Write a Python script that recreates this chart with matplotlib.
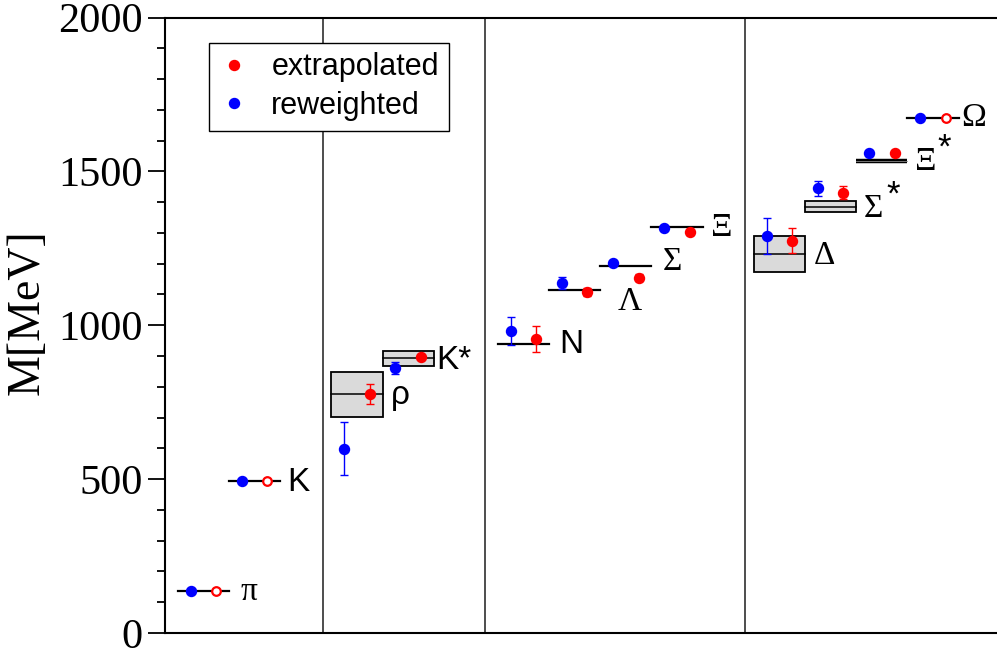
import matplotlib.pyplot as plt
from matplotlib.lines import Line2D
from matplotlib.patches import Rectangle

# hadron positions along x (slot centres) and labels
names = ['π', 'K', 'ρ', 'K*', 'N', 'Λ', 'Σ', 'Ξ', 'Δ', 'Σ*', 'Ξ*', 'Ω']
xpos = [0.75, 1.75, 3.75, 4.75, 7.0, 8.0, 9.0, 10.0, 12.0, 13.0, 14.0, 15.0]

# experimental masses and half widths (MeV)
m_exp = [138, 495, 775, 892, 939, 1116, 1192, 1318, 1232, 1385, 1533, 1672]
half_width = [0, 0, 74.5, 25.4, 0, 0, 0, 0, 58.5, 18, 4.5, 0]

# lattice results
m_rew = [138, 495, 598, 860, 982, 1137, 1203, 1317, 1290, 1445, 1561, 1672]
e_rew = [0, 0, 86, 20, 45, 20, 5, 5, 58, 24, 5, 0]
m_ext = [138, 495, 777, 896, 954, 1108, 1155, 1302, 1275, 1431, 1561, 1672]
e_ext = [0, 0, 32, 6, 42, 13, 12, 8, 40, 21, 5, 0]
is_input = [True, True, False, False, False, False, False, False, False, False, False, True]

separators = [3.08, 6.25, 11.33]

fig = plt.figure(figsize=(9.97, 6.55), dpi=100)
ax = fig.add_axes([165 / 997, 22 / 655, 832 / 997, 615.5 / 655])

ax.set_xlim(0, 16.25)
ax.set_ylim(0, 2000)

for s in separators:
    ax.axvline(s, color='#4d4d4d', lw=1.4, zorder=1)

for i in range(len(names)):
    x = xpos[i]
    if half_width[i] > 8:
        ax.add_patch(Rectangle((x - 0.5, m_exp[i] - half_width[i]), 1.0, 2 * half_width[i],
                               facecolor='#dadada', edgecolor='black', lw=1.3, zorder=2))
        ax.plot([x - 0.5, x + 0.5], [m_exp[i], m_exp[i]], color='black', lw=1.1, zorder=3)
    elif half_width[i] > 0:
        # narrow resonance: box collapses to a thick bar
        ax.plot([x - 0.5, x + 0.5], [m_exp[i], m_exp[i]], color='black', lw=3.2,
                solid_capstyle='butt', zorder=3)
        ax.plot([x - 0.5, x + 0.5], [m_exp[i], m_exp[i]], color='#888888', lw=0.6, zorder=3)
    else:
        ax.plot([x - 0.5, x + 0.5], [m_exp[i], m_exp[i]], color='black', lw=1.6, zorder=3)

    xb = x - 0.25
    xr = x + 0.25
    if e_rew[i] > 0:
        ax.errorbar(xb, m_rew[i], yerr=e_rew[i], fmt='none', ecolor='blue',
                    elinewidth=1.0, capsize=3, capthick=1.0, zorder=4)
    if e_ext[i] > 0:
        ax.errorbar(xr, m_ext[i], yerr=e_ext[i], fmt='none', ecolor='red',
                    elinewidth=1.0, capsize=3, capthick=1.0, zorder=4)
    ax.plot(xb, m_rew[i], 'o', color='blue', ms=7.2, mec='blue', zorder=5)
    if is_input[i]:
        ax.plot(xr, m_ext[i], 'o', mfc='white', mec='red', ms=6.2, mew=1.6, zorder=5)
    else:
        ax.plot(xr, m_ext[i], 'o', color='red', ms=7.2, zorder=5)

# particle labels
sans = ['Liberation Sans', 'DejaVu Sans']
serif = ['Liberation Serif', 'DejaVu Serif']
label_pos = {
    'π': (1.48, 133, serif),
    'K': (2.38, 490, sans),
    'ρ': (4.42, 773, sans),
    'K*': (5.3, 885, sans),
    'N': (7.7, 936, sans),
    'Λ': (8.85, 1075, serif),
    'Σ': (9.72, 1205, serif),
    'Ξ': (10.66, 1316, serif),
    'Δ': (12.68, 1225, serif),
    'Σ*': (13.65, 1380, serif),
    'Ξ*': (14.65, 1532, serif),
    'Ω': (15.56, 1673, serif),
}
for name, (lx, ly, fam) in label_pos.items():
    if name.endswith('*') and fam is serif:
        # serif baryon: raised asterisk drawn on its own
        ax.text(lx, ly, name[:-1], fontsize=24, family=fam, ha='left', va='center')
        ax.text(lx + 0.57, ly + 44, '*', fontsize=25, family=sans, ha='center', va='center')
    else:
        ax.text(lx, ly, name, fontsize=24, family=fam, ha='left', va='center')

# axes styling
ax.spines['right'].set_visible(False)
for side in ['left', 'top', 'bottom']:
    ax.spines[side].set_linewidth(1.5)
ax.set_xticks([])
ax.set_yticks([0, 500, 1000, 1500, 2000])
ax.set_yticks(range(0, 2001, 100), minor=True)
ax.tick_params(axis='y', which='major', direction='out', length=12, width=1.3, pad=4)
ax.tick_params(axis='y', which='minor', direction='out', length=6, width=1.3)
for lab in ax.get_yticklabels():
    lab.set_family('Liberation Serif')
    lab.set_fontsize(30.5)

fig.text(27 / 997, 1 - 312 / 655, 'M[MeV]', rotation=90, family='Liberation Serif',
         fontsize=33, ha='center', va='center')

handles = [Line2D([], [], ls='none', marker='o', color='red', ms=7.2),
           Line2D([], [], ls='none', marker='o', color='blue', ms=7.2)]
leg = ax.legend(handles, ['extrapolated', 'reweighted'], loc='upper left',
                bbox_to_anchor=((209 - 165) / 832, 1 - (42.7 - 17.5) / 615.5),
                borderaxespad=0, fancybox=False, edgecolor='black', framealpha=1,
                prop={'family': 'Liberation Sans', 'size': 22},
                handlelength=1.0, handletextpad=0.72, labelspacing=0.28, borderpad=0.32)
leg.get_frame().set_linewidth(1.0)

fig.savefig('out.png', dpi=100)
